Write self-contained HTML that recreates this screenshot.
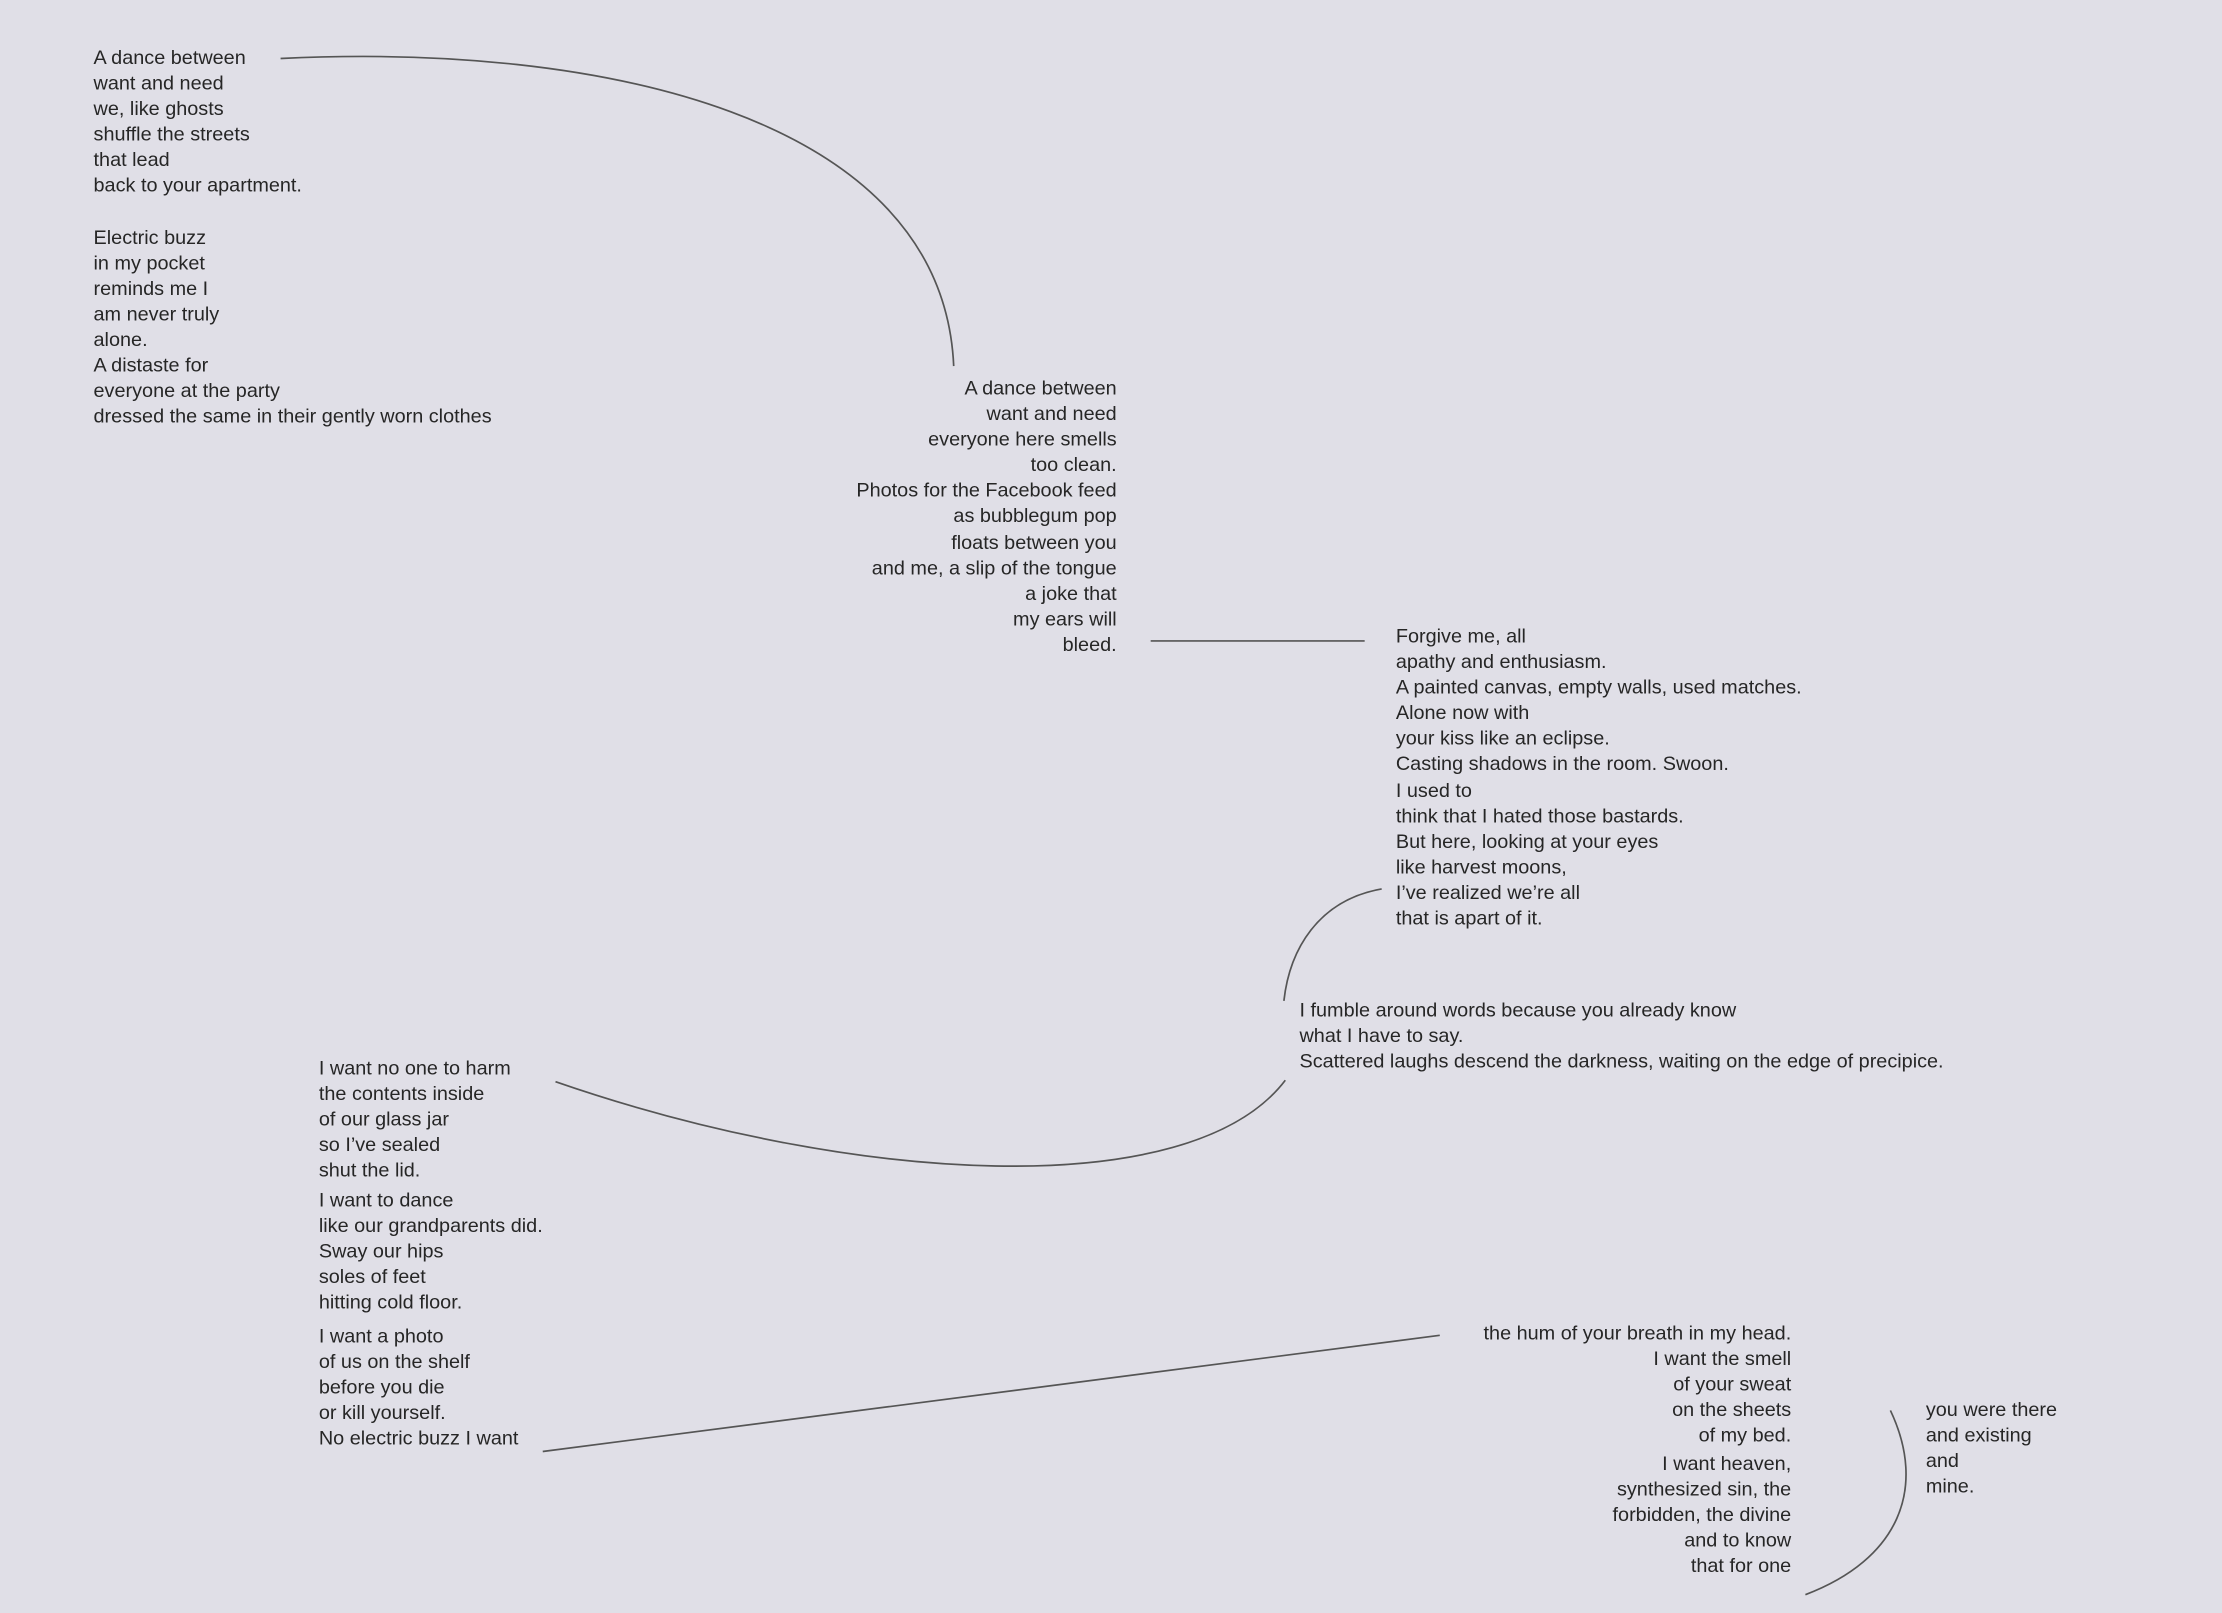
<!DOCTYPE html>
<html><head><meta charset="utf-8"><style>
html,body{margin:0;padding:0;background:#e0dfe7;}
body{width:2222px;height:1612px;overflow:hidden;position:relative;}
#w{position:absolute;left:0;top:-1px;width:1568px;height:1138px;transform:scale(1.4171);transform-origin:0 0;}
.b{position:absolute;font-family:"Liberation Sans",sans-serif;font-size:14px;line-height:18.1px;color:#262626;white-space:pre;letter-spacing:0px;}
.r{text-align:right;}
svg{position:absolute;left:0;top:1px;}
</style></head><body><div id="w">
<svg width="1568" height="1138" viewBox="0 0 1568 1138" fill="none" stroke="#555" stroke-width="1.2">
<path d="M198 41 C420 30 665 80 673 258"/>
<path d="M812 452 L963 452"/>
<path d="M975 627 C930 635 910 670 906 706"/>
<path d="M392 763 C600 835 840 850 907 762"/>
<path d="M383 1024 L1016 942"/>
<path d="M1334 995 C1360 1050 1340 1100 1274 1125"/>
</svg>
<div class="b" style="left:66px;top:32px;">A dance between
want and need
we, like ghosts
shuffle the streets
that lead
back to your apartment.

Electric buzz
in my pocket
reminds me I
am never truly
alone.
A distaste for
everyone at the party
dressed the same in their gently worn clothes</div>
<div class="b r" style="right:780px;top:265px;">A dance between
want and need
everyone here smells
too clean.
Photos for the Facebook feed
as bubblegum pop
floats between you
and me, a slip of the tongue
a joke that
my ears will
bleed.</div>
<div class="b" style="left:985px;top:440px;">Forgive me, all
apathy and enthusiasm.
A painted canvas, empty walls, used matches.
Alone now with
your kiss like an eclipse.
Casting shadows in the room. Swoon.
I used to
think that I hated those bastards.
But here, looking at your eyes
like harvest moons,
I’ve realized we’re all
that is apart of it.</div>
<div class="b" style="left:917px;top:704px;">I fumble around words because you already know
what I have to say.
Scattered laughs descend the darkness, waiting on the edge of precipice.</div>
<div class="b" style="left:225px;top:745px;">I want no one to harm
the contents inside
of our glass jar
so I’ve sealed
shut the lid.</div>
<div class="b" style="left:225px;top:838px;">I want to dance
like our grandparents did.
Sway our hips
soles of feet
hitting cold floor.</div>
<div class="b" style="left:225px;top:934px;">I want a photo
of us on the shelf
before you die
or kill yourself.
No electric buzz I want</div>
<div class="b r" style="right:304px;top:932px;">the hum of your breath in my head.
I want the smell
of your sweat
on the sheets
of my bed.</div>
<div class="b r" style="right:304px;top:1024px;">I want heaven,
synthesized sin, the
forbidden, the divine
and to know
that for one</div>
<div class="b" style="left:1359px;top:986px;">you were there
and existing
and
mine.</div>
</div></body></html>
